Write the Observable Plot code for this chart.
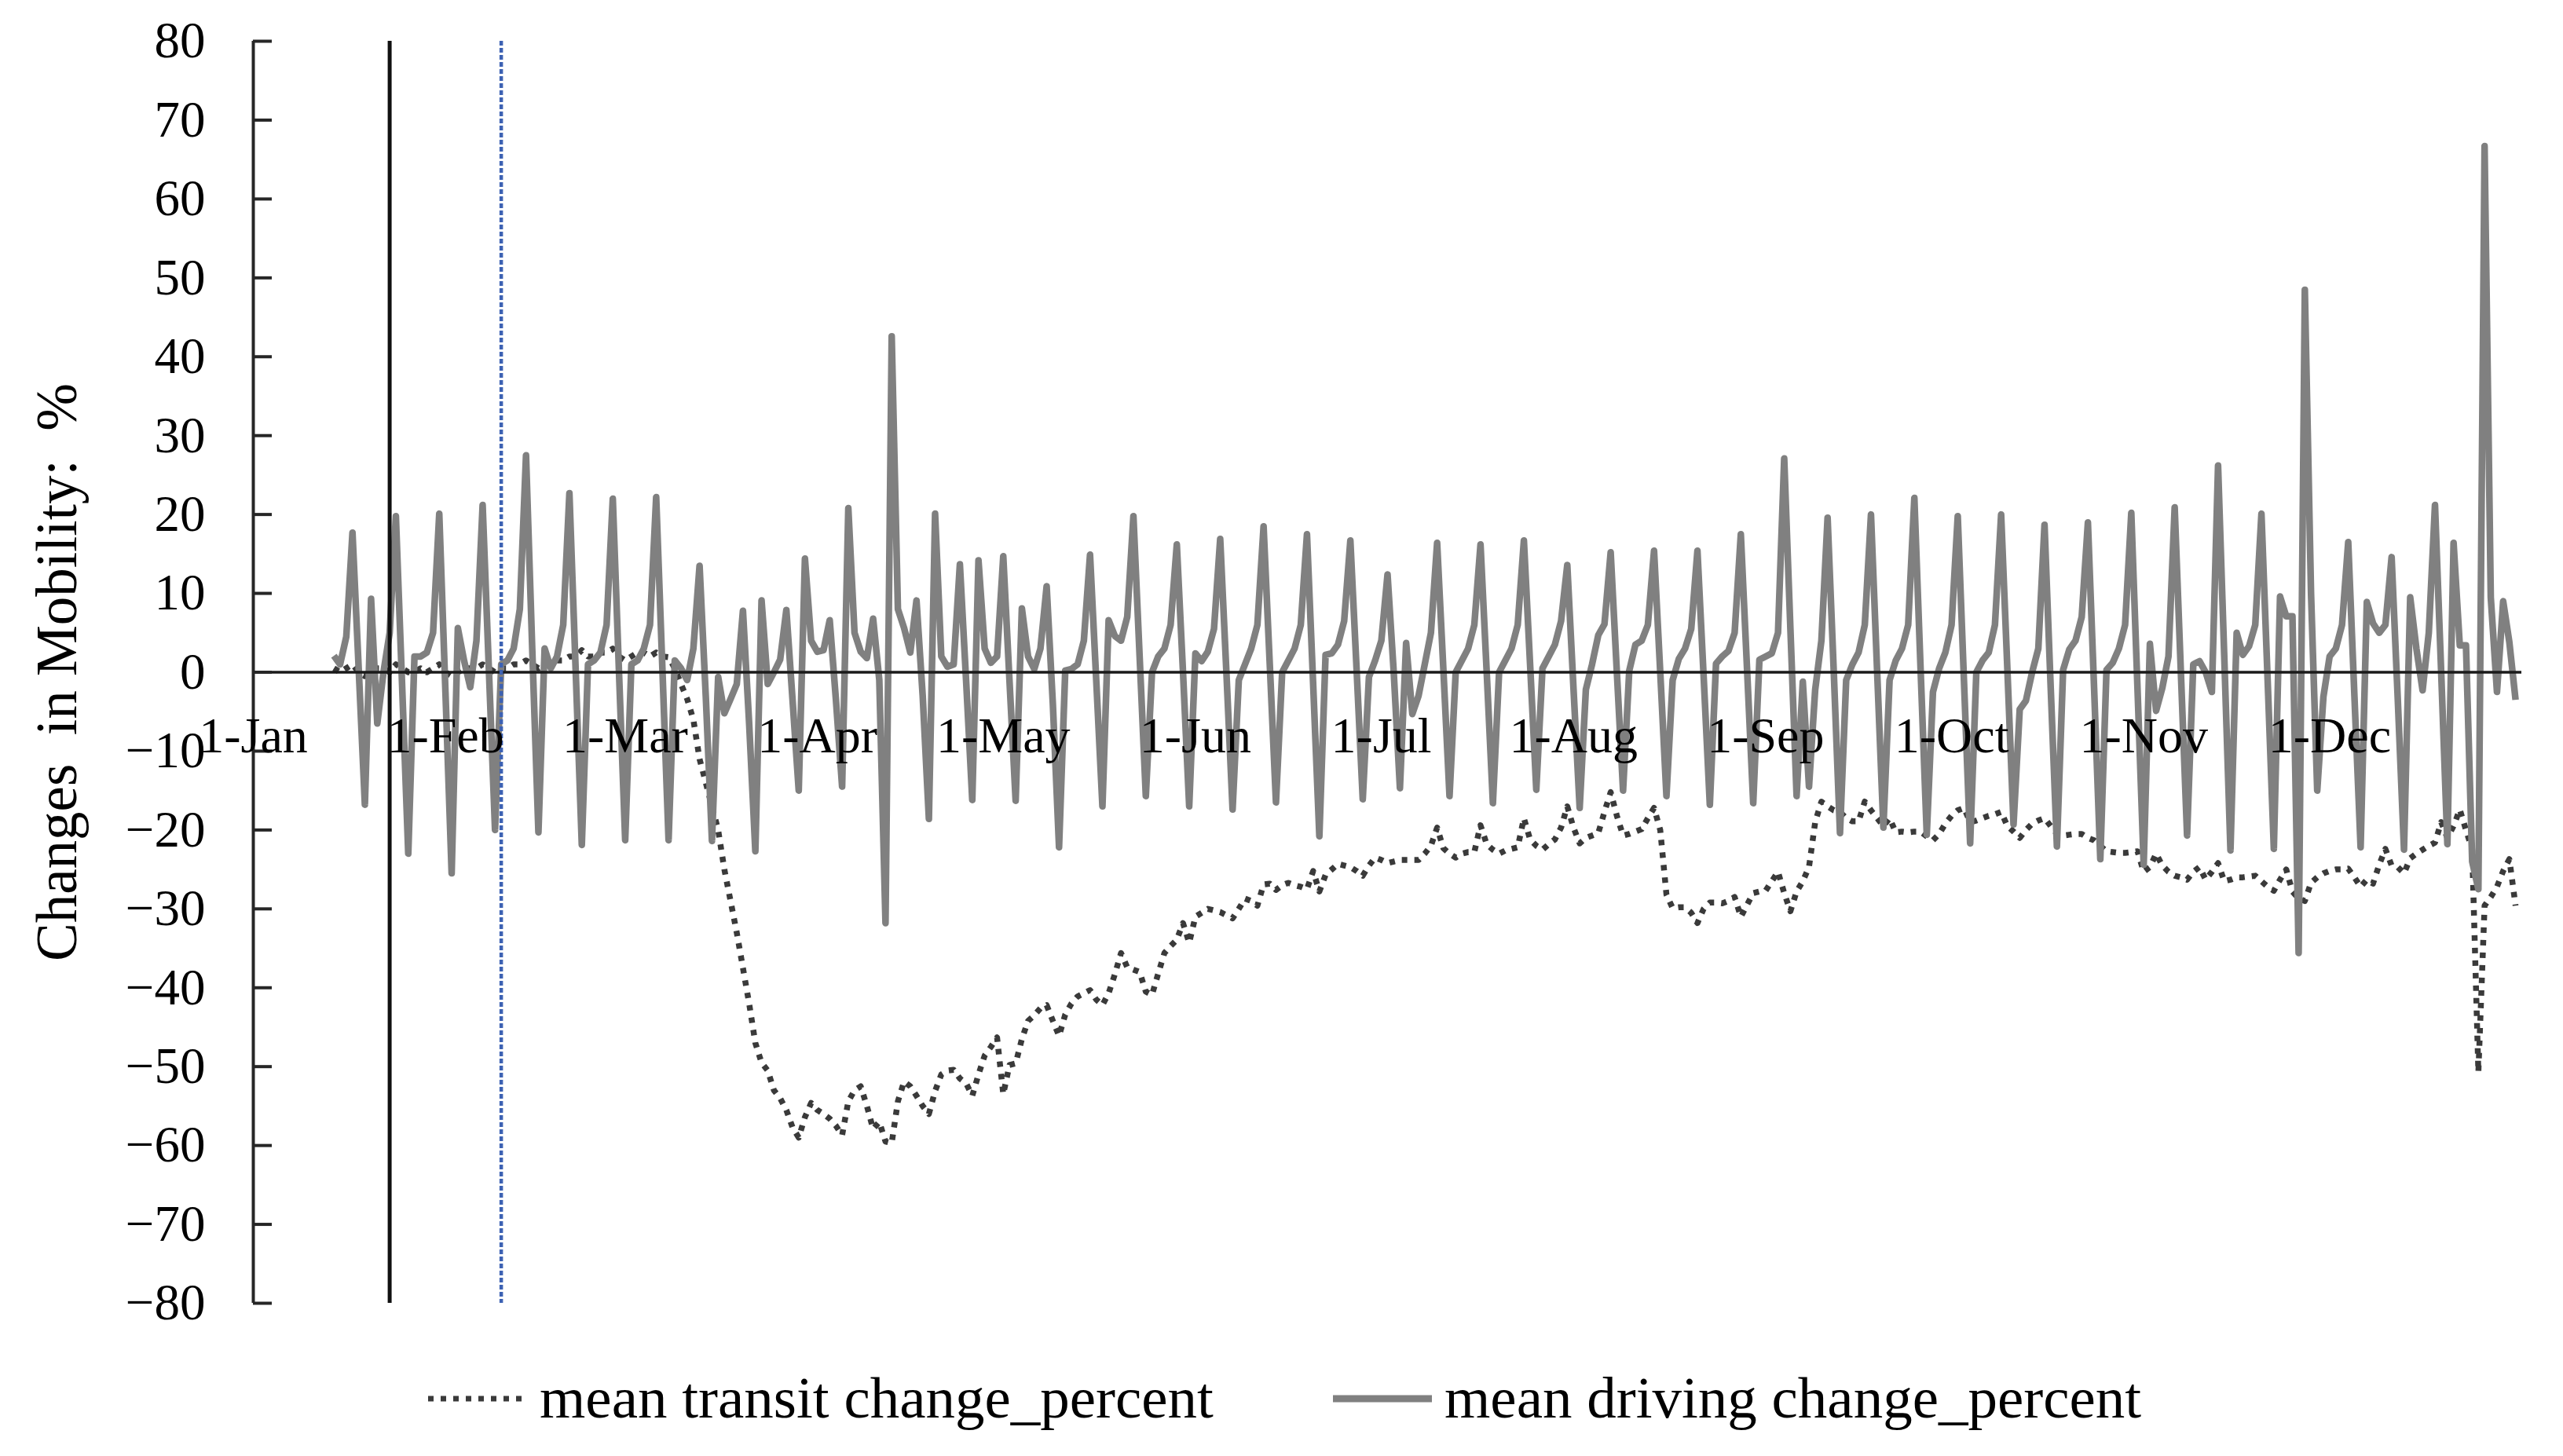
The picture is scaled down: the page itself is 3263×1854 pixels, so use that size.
<!DOCTYPE html>
<html>
<head>
<meta charset="utf-8">
<script src="https://cdn.jsdelivr.net/npm/d3@7"></script>
<script src="https://cdn.jsdelivr.net/npm/@observablehq/plot@0.6"></script>
<style>
  html, body { margin: 0; padding: 0; background: #ffffff; }
  body { width: 3263px; height: 1854px; overflow: hidden; font-family: "Liberation Serif", "Times New Roman", serif; }
  #chart svg { display: block; }
  #legend { position: relative; width: 3263px; height: 134px; }
  #legend .item { position: absolute; top: 0; height: 134px; display: flex; align-items: center; }
  #legend .label { font-size: 75px; line-height: 134px; color: #000; white-space: nowrap; position: relative; top: -7px; }
</style>
</head>
<body>
<div id="chart"></div>
<div id="legend"></div>
<script>
// ---------- data ----------
const seriesStart = "2020-01-14";          // first day of both series
const seriesNames = ["mean transit change_percent", "mean driving change_percent"];

// mean driving change_percent, daily from 14 Jan 2020 (one row per week, Mon..Sun)
const drivingChange = [
                 2.1,   1.0,   4.5,  17.7,   0.5, -16.8,   // Jan 14-19
   9.3,  -6.5,   0.0,   5.0,  19.8,  -1.5, -23.0,          // Jan 20
   2.0,   2.0,   2.5,   5.0,  20.1,  -2.5, -25.5,          // Jan 27
   5.6,   1.5,  -1.9,   4.0,  21.2,   0.5, -20.0,          // Feb 3
   1.0,   1.5,   3.0,   8.0,  27.5,   3.0, -20.3,          // Feb 10
   3.0,   0.5,   2.0,   6.0,  22.7,   0.5, -21.9,          // Feb 17
   1.0,   1.5,   2.5,   6.0,  22.0,   0.0, -21.3,          // Feb 24
   1.0,   1.5,   3.0,   6.0,  22.2,   0.5, -21.3,          // Mar 2
   1.5,   0.5,  -1.0,   3.0,  13.5,  -3.0, -21.4,          // Mar 9
  -0.6,  -5.2,  -3.4,  -1.5,   7.8,  -6.5, -22.7,          // Mar 16
   9.1,  -1.5,   0.0,   1.6,   7.9,  -3.5, -15.0,          // Mar 23
  14.4,   4.0,   2.6,   2.8,   6.6,  -3.5, -14.5,          // Mar 30
  20.8,   5.0,   2.6,   1.8,   6.8,  -1.0, -31.8,          // Apr 6
  42.6,   8.0,   5.6,   2.5,   9.1,  -3.0, -18.6,          // Apr 13
  20.1,   2.0,   0.7,   1.0,  13.7,  -1.0, -16.2,          // Apr 20
  14.2,   3.0,   1.2,   2.0,  14.7,  -1.0, -16.3,          // Apr 27
   8.1,   2.0,   0.4,   3.0,  10.9,  -4.0, -22.2,          // May 4
   0.2,   0.4,   1.0,   4.0,  14.9,  -1.0, -17.0,          // May 11
   6.6,   4.6,   4.0,   7.0,  19.8,   2.0, -15.7,          // May 18
   0.0,   2.0,   3.0,   6.0,  16.2,   0.0, -17.0,          // May 25
   2.4,   1.4,   2.6,   5.5,  16.9,   0.0, -17.4,          // Jun 1
  -1.0,   1.0,   3.0,   6.0,  18.5,   1.0, -16.5,          // Jun 8
   0.0,   1.5,   3.0,   6.0,  17.5,  -1.5, -20.8,          // Jun 15
   2.2,   2.4,   3.5,   6.5,  16.7,   0.5, -16.1,          // Jun 22
  -0.6,   1.5,   4.0,  12.4,   0.0, -14.7,   3.7,          // Jun 29
  -5.3,  -3.0,   1.0,   5.0,  16.4,   0.5, -15.7,          // Jul 6
   0.0,   1.5,   3.0,   6.0,  16.2,   0.0, -16.6,          // Jul 13
   0.0,   1.5,   3.0,   6.0,  16.7,   1.0, -14.9,          // Jul 20
   0.5,   2.0,   3.5,   6.5,  13.6,  -2.0, -17.2,          // Jul 27
  -2.2,   1.0,   4.7,   6.1,  15.2,   0.0, -15.0,          // Aug 3
   0.2,   3.5,   4.0,   6.0,  15.4,   0.0, -15.7,          // Aug 10
  -1.0,   1.7,   3.0,   5.5,  15.4,  -0.5, -16.8,          // Aug 17
   1.1,   2.0,   2.7,   5.0,  17.5,   0.5, -16.6,          // Aug 24
   1.6,   2.0,   2.4,   5.0,  27.1,   5.5, -15.7,          // Aug 31
  -1.2, -14.5,  -2.2,   4.0,  19.6,   0.0, -20.4,          // Sep 7
  -1.0,   1.0,   2.5,   6.0,  20.0,   0.0, -19.7,          // Sep 14
  -1.0,   1.5,   3.0,   6.0,  22.1,   0.5, -20.6,          // Sep 21
  -2.5,   0.5,   2.5,   6.0,  19.8,  -1.0, -21.7,          // Sep 28
   0.0,   1.5,   2.5,   6.0,  20.0,   0.5, -19.3,          // Oct 5
  -4.7,  -3.6,   0.0,   3.0,  18.7,  -2.0, -22.1,          // Oct 12
   0.3,   2.9,   4.0,   7.0,  19.0,  -2.0, -23.7,          // Oct 19
   0.3,   1.2,   3.0,   6.0,  20.2,  -2.0, -24.4,          // Oct 26
   3.6,  -4.9,  -2.0,   2.0,  20.9,   0.0, -20.7,          // Nov 2
   1.0,   1.4,   0.0,  -2.5,  26.2,   2.0, -22.6,          // Nov 9
   5.0,   2.2,   3.3,   6.0,  20.1,  -1.0, -22.4,          // Nov 16
   9.6,   7.1,   7.1, -35.6,  48.5,  10.0, -15.0,          // Nov 23
  -3.1,   2.0,   3.0,   6.0,  16.5,  -3.0, -22.2,          // Nov 30
   8.9,   6.2,   5.0,   6.0,  14.6,  -3.5, -22.5,          // Dec 7
   9.5,   3.0,  -2.3,   5.0,  21.2,   0.0, -21.8,          // Dec 14
  16.4,   3.4,   3.4, -24.0, -27.5,  66.7,   9.5,          // Dec 21
  -2.5,   9.0,   3.8,  -3.5                                // Dec 28-31
];

// mean transit change_percent, daily from 14 Jan 2020 (one row per week, Mon..Sun)
const transitChange = [
                 0.5,   0.0,   0.5,   1.0,   0.0,  -0.5,   // Jan 14-19
   0.0,   0.5,   0.5,   0.0,   1.0,   0.5,   0.0,          // Jan 20
   0.0,   0.5,   0.0,   0.5,   1.0,   0.0,  -0.5,          // Jan 27
   0.0,   0.5,   0.5,   0.5,   1.0,   0.5,   0.0,          // Feb 3
   0.5,   0.5,   1.0,   1.0,   1.5,   1.0,   0.5,          // Feb 10
   1.0,   1.0,   1.5,   1.5,   2.0,   2.0,   2.8,          // Feb 17
   2.0,   2.0,   2.5,   2.5,   3.0,   2.0,   1.5,          // Feb 24
   2.0,   2.5,   2.5,   2.0,   2.5,   2.0,   1.9,          // Mar 2
   0.5,  -1.5,  -3.4,  -6.0, -11.0, -14.0, -17.0,          // Mar 9
 -20.0, -25.0, -29.0, -33.0, -37.5, -42.0, -47.0,          // Mar 16
 -49.5, -50.5, -53.0, -54.0, -55.5, -57.7, -59.0,          // Mar 23
 -56.4, -54.6, -55.5, -56.0, -56.6, -57.5, -58.7,          // Mar 30
 -54.4, -53.0, -52.5, -55.0, -57.9, -57.0, -59.5,          // Apr 6
 -59.7, -54.4, -51.9, -52.5, -53.7, -55.0, -56.0,          // Apr 13
 -53.1, -51.0, -50.5, -50.4, -51.5, -52.1, -53.7,          // Apr 20
 -51.0, -48.6, -47.5, -46.3, -53.5, -49.8, -49.6,          // Apr 27
 -46.5, -44.2, -43.5, -42.6, -42.2, -44.2, -46.1,          // May 4
 -43.4, -42.0, -41.1, -40.7, -40.3, -41.5, -42.2,          // May 11
 -40.7, -38.3, -35.6, -37.4, -37.7, -38.0, -40.5,          // May 18
 -40.9, -38.2, -35.6, -34.7, -33.9, -31.8, -34.3,          // May 25
 -31.0, -30.5, -30.0, -30.2, -30.4, -30.8, -31.2,          // Jun 1
 -30.0, -28.7, -29.0, -29.6, -26.9, -26.8, -27.6,          // Jun 8
 -27.0, -26.7, -27.0, -27.2, -27.5, -25.2, -27.8,          // Jun 15
 -25.7, -25.0, -24.3, -24.5, -24.7, -25.2, -25.8,          // Jun 22
 -24.5, -23.5, -23.8, -24.2, -24.0, -23.8, -23.8,          // Jun 29
 -23.8, -23.8, -23.0, -22.0, -19.7, -22.3, -23.0,          // Jul 6
 -23.5, -23.0, -22.8, -22.8, -19.4, -21.8, -22.5,          // Jul 13
 -23.0, -22.6, -22.4, -22.2, -18.5, -21.2, -22.0,          // Jul 20
 -22.5, -21.8, -21.2, -19.7, -17.0, -19.7, -21.7,          // Jul 27
 -21.0, -20.7, -20.4, -17.7, -15.2, -18.2, -20.7,          // Aug 3
 -20.5, -20.2, -19.9, -18.5, -17.2, -20.0, -28.2,          // Aug 10
 -29.9, -29.8, -29.8, -30.5, -31.8, -30.0, -29.2,          // Aug 17
 -29.2, -29.3, -29.0, -28.5, -31.0, -29.5, -28.0,          // Aug 24
 -27.8, -27.7, -26.5, -25.3, -28.0, -30.3, -27.8,          // Aug 31
 -26.5, -24.7, -19.0, -16.4, -17.0, -17.5, -17.7,          // Sep 7
 -18.5, -18.9, -18.9, -16.4, -17.5, -18.5, -19.5,          // Sep 14
 -18.5, -20.3, -20.2, -20.3, -20.2, -20.2, -20.8,          // Sep 21
 -21.3, -20.5, -19.2, -18.2, -17.5, -17.2, -19.0,          // Sep 28
 -18.8, -18.5, -18.2, -18.0, -17.7, -19.5, -20.2,          // Oct 5
 -21.0, -20.0, -19.2, -18.8, -18.5, -19.5, -20.5,          // Oct 12
 -20.7, -20.6, -20.5, -20.5, -21.0, -21.3, -22.0,          // Oct 19
 -22.7, -22.8, -22.9, -22.9, -22.8, -22.7, -25.3,          // Oct 26
 -24.7, -23.0, -24.5, -25.3, -25.8, -26.0, -26.3,          // Nov 2
 -25.3, -24.7, -26.3, -25.3, -24.2, -26.5, -26.3,          // Nov 9
 -26.0, -26.0, -25.9, -25.8, -26.5, -27.2, -27.7,          // Nov 16
 -26.3, -25.0, -27.8, -28.7, -29.0, -26.7, -26.0,          // Nov 23
 -25.5, -25.2, -25.0, -25.0, -24.9, -26.0, -27.2,          // Nov 30
 -26.3, -26.8, -24.4, -22.4, -24.5, -24.7, -25.5,          // Dec 7
 -23.6, -23.0, -22.5, -22.0, -21.6, -19.0, -21.0,          // Dec 14
 -19.5, -17.4, -20.0, -22.5, -50.7, -29.6, -28.5,          // Dec 21
 -27.2, -25.2, -23.7, -29.6                                // Dec 28-31
];

const monthTicks = ["2020-01-01","2020-02-01","2020-03-01","2020-04-01","2020-05-01","2020-06-01",
                    "2020-07-01","2020-08-01","2020-09-01","2020-10-01","2020-11-01","2020-12-01"];
const xDomain = ["2020-01-01", "2021-01-01"];
const yTicks = [-80, -70, -60, -50, -40, -30, -20, -10, 0, 10, 20, 30, 40, 50, 60, 70, 80];
const solidEventDate = "2020-01-23";
const dashedEventDate = "2020-02-10";
const yTitle = "Changes  in Mobility:  %";

// ---------- build ----------
const parseDate = d3.utcParse("%Y-%m-%d");
const start = parseDate(seriesStart);
const driving = drivingChange.map((v, i) => ({date: d3.utcDay.offset(start, i), value: v}));
const transit = transitChange.map((v, i) => ({date: d3.utcDay.offset(start, i), value: v}));
const fmtMonth = d3.utcFormat("%-d-%b");
const FONT = "'Liberation Serif', 'Times New Roman', serif";

const chart = Plot.plot({
  width: 3263,
  height: 1720,
  marginTop: 52,
  marginBottom: 61,
  marginLeft: 322,
  marginRight: 53,
  style: {fontFamily: FONT, fontSize: "65px", color: "#000", background: "#fff", overflow: "visible"},
  x: {type: "utc", domain: xDomain.map(parseDate), axis: null},
  y: {domain: [yTicks[0], yTicks[yTicks.length - 1]], axis: null},
  marks: [
    Plot.line(transit, {x: "date", y: "value", stroke: "#3a3a3a", strokeWidth: 7.5,
      strokeDasharray: "7,9", strokeLinecap: "butt", strokeLinejoin: "round"}),
    Plot.line(driving, {x: "date", y: "value", stroke: "#808080", strokeWidth: 8.5,
      strokeLinejoin: "round", strokeLinecap: "butt"}),
    Plot.ruleY([0], {stroke: "#1a1a1a", strokeWidth: 3.5}),
    Plot.ruleX([parseDate(solidEventDate)], {stroke: "#111", strokeWidth: 5}),
    Plot.ruleX([parseDate(dashedEventDate)], {stroke: "#3d62b3", strokeWidth: 4.5, strokeDasharray: "6,3"}),
    Plot.ruleX([parseDate(xDomain[0])], {stroke: "#262626", strokeWidth: 4}),
    Plot.axisY({ticks: yTicks, anchor: "left", tickSize: 24, dx: 24, tickPadding: 61,
      stroke: "#262626", strokeWidth: 4, fontSize: 65, fill: "#000", label: null}),
    Plot.text(monthTicks, {x: d => parseDate(d), y: () => 0, text: d => fmtMonth(parseDate(d)),
      dy: 82, fontSize: 64, fill: "#000", textAnchor: "middle"}),
    Plot.text([yTitle], {frameAnchor: "left", textAnchor: "middle", rotate: -90, dx: -249,
      fontSize: 73, fill: "#000"})
  ]
});
document.getElementById("chart").appendChild(chart);

// ---------- legend ----------
const legend = d3.select("#legend");
const legendItems = [
  {name: seriesNames[0], left: 545, dash: "7,9", stroke: "#3a3a3a", width: 7},
  {name: seriesNames[1], left: 1697, dash: null, stroke: "#808080", width: 9}
];
legendItems.forEach(it => {
  const div = legend.append("div").attr("class", "item").style("left", it.left + "px");
  const svg = div.append("svg").attr("width", 126).attr("height", 30).style("margin-right", "16px")
    .style("position", "relative").style("top", "-6px");
  const ln = svg.append("line").attr("x1", 0).attr("x2", 126).attr("y1", 15).attr("y2", 15)
    .attr("stroke", it.stroke).attr("stroke-width", it.width);
  if (it.dash) ln.attr("stroke-dasharray", it.dash);
  div.append("span").attr("class", "label").text(it.name);
});
</script>
</body>
</html>
